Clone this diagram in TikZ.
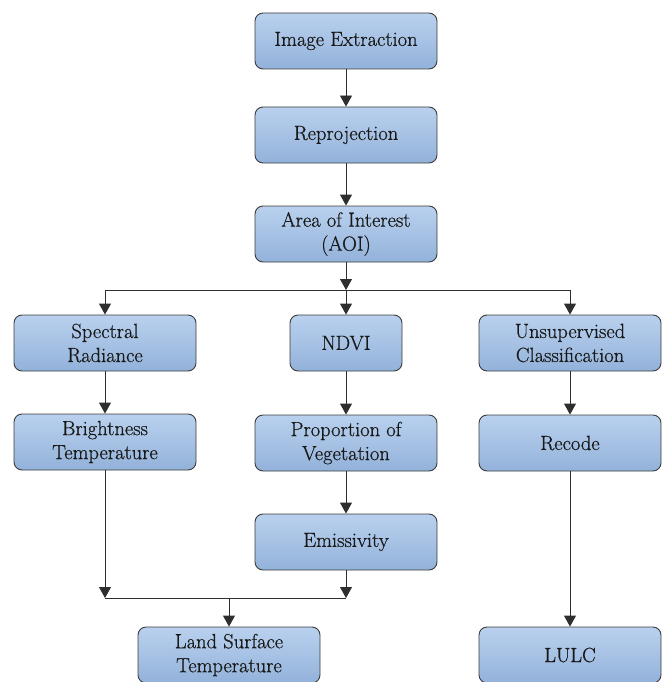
\documentclass[tikz,border=0pt]{standalone}
\usepackage{fontspec}
\newfontfamily\lmfont{Latin Modern Roman}[FakeBold=0.6]
\usetikzlibrary{arrows.meta}
\definecolor{boxtop}{HTML}{B9D1EE}
\definecolor{boxbot}{HTML}{93B2DA}
\definecolor{edge}{HTML}{3C3C3C}
\definecolor{linec}{HTML}{2E2E2E}
\tikzset{
  box/.style={draw=edge, line width=0.9pt, rounded corners=8pt, top color=boxtop, bottom color=boxbot,
    minimum width=182pt, minimum height=56pt, align=center, inner sep=2pt,
    font=\lmfont\fontsize{20.5}{24}\selectfont, text=black!90},
  arr/.style={draw=linec, line width=0.9pt, -{Triangle[width=12pt,length=11pt]}},
  ln/.style={draw=linec, line width=0.9pt}
}
\begin{document}
\begin{tikzpicture}[x=1pt,y=-1pt]
\useasboundingbox (0,0) rectangle (665,682);
\node[box] (ie) at (346,41) {Image Extraction};
\node[box] (rp) at (346,135) {Reprojection};
\node[box] (aoi) at (346,234) {Area of Interest\\(AOI)};
\node[box] (sr) at (105,343) {Spectral\\Radiance};
\node[box] (bt) at (105,442) {Brightness\\Temperature};
\node[box, minimum width=112pt] (ndvi) at (346,343) {NDVI};
\node[box] (uc) at (570,343) {Unsupervised\\Classification};
\node[box] (pv) at (346,443) {Proportion of\\Vegetation};
\node[box] (rc) at (570,443) {Recode};
\node[box] (em) at (346,542) {Emissivity};
\node[box] (lst) at (229,655) {Land Surface\\Temperature};
\node[box] (lulc) at (570,655) {LULC};

\coordinate (s0) at (346,290);
\coordinate (sl) at (105,290);
\coordinate (sr0) at (570,290);
\coordinate (m1) at (105,598);
\coordinate (m2) at (346,598);
\coordinate (m0) at (229,598);

\draw[arr] (ie) -- (rp);
\draw[arr] (rp) -- (aoi);
\draw[arr] (aoi) -- (s0);
\draw[ln] (sl) -- (sr0);
\draw[arr] (sl) -- (sr);
\draw[arr] (s0) -- (ndvi);
\draw[arr] (sr0) -- (uc);
\draw[arr] (sr) -- (bt);
\draw[arr] (ndvi) -- (pv);
\draw[arr] (uc) -- (rc);
\draw[arr] (pv) -- (em);
\draw[arr] (bt) -- (m1);
\draw[arr] (em) -- (m2);
\draw[ln] (m1) -- (m2);
\draw[arr] (m0) -- (lst);
\draw[arr] (rc) -- (lulc);
\end{tikzpicture}
\end{document}
